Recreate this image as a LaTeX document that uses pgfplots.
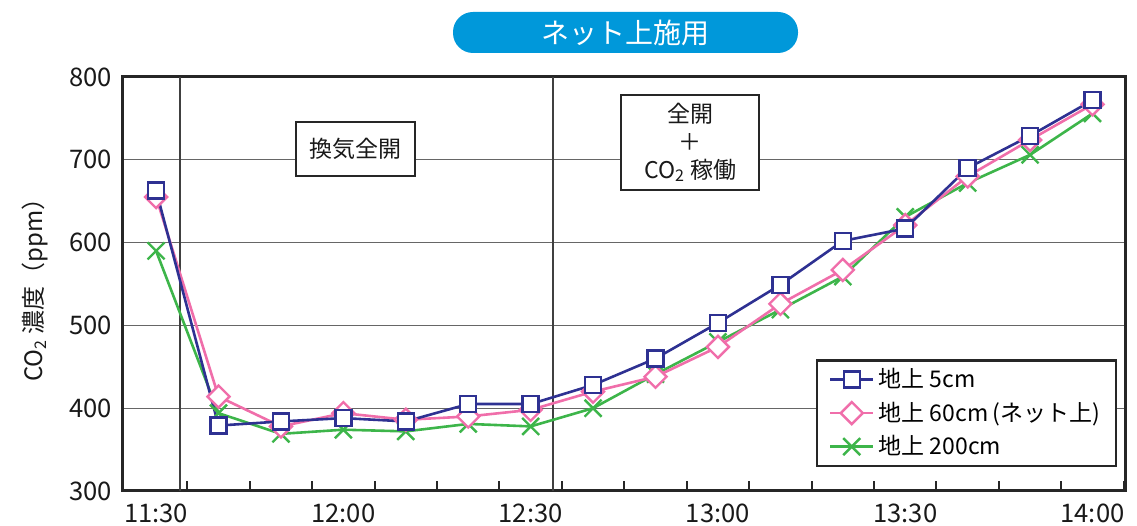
\documentclass[border=0pt]{standalone}
\usepackage{fontspec}
\setmainfont{Noto Sans CJK JP}
\usepackage{pgfplots}
\pgfplotsset{compat=1.18}
\definecolor{cblue}{HTML}{2E3192}
\definecolor{cpink}{HTML}{F06EAA}
\definecolor{cgreen}{HTML}{3DB54A}
\definecolor{ctitle}{HTML}{0098DA}
\begin{document}
\begin{tikzpicture}
\begin{axis}[
  name=ax,
  scale only axis, width=501pt, height=207pt,
  xmin=-0.53, xmax=15.52, ymin=300, ymax=800,
  xtick={0,3,6,9,12,15},
  xticklabels={11:30,12:00,12:30,13:00,13:30,14:00},
  minor xtick={0.5,1.5,...,15.5},
  ytick={300,400,...,800},
  major tick length=0pt, minor tick length=5pt,
  tick align=inside, xtick pos=bottom, ytick pos=left,
  minor tick style={black!85, line width=1pt},
  ymajorgrids, grid style={black!60, line width=0.6pt},
  axis line style={black!85, line width=1.5pt},
  tick label style={font=\fontsize{12.8}{14}\selectfont, text=black!90},
  /pgf/number format/assume math mode=true,
  xticklabel style={yshift=-3pt},
  yticklabel style={xshift=-2pt},
  ylabel={CO\textsubscript{2} 濃度（ppm）},
  ylabel style={at={(axis description cs:-0.0878,0.5)}, anchor=center, font=\fontsize{12}{14}\selectfont, text=black!90},
  clip=false,
  reverse legend,
  legend cell align=left,
  legend image code/.code={\draw[mark repeat=2,mark phase=2] plot coordinates {(0cm,0cm)(0.38cm,0cm)(0.76cm,0cm)};},
  legend style={at={(1,0)}, anchor=south east, xshift=-4pt, yshift=12pt,
    draw=black!85, line width=1.2pt, font=\fontsize{11.5}{13}\selectfont,
    inner xsep=6pt, inner ysep=2pt, row sep=1.6pt},
]
\draw[black!75, line width=0.8pt] (axis cs:0.384,300) -- (axis cs:0.384,800);
\draw[black!75, line width=0.8pt] (axis cs:6.36,300) -- (axis cs:6.36,800);

\addplot[cgreen, line width=1.3pt, mark=x, mark size=6pt, mark options={line width=1.2pt}] coordinates {
(0,590) (1,394) (2,369) (3,374) (4,372) (5,381) (6,378) (7,400)
(8,441) (9,480) (10,519) (11,559) (12,631) (13,672) (14,706) (15,756)};
\addlegendentry{地上 200cm}
\addplot[cpink, line width=1.3pt, mark=square*, mark size=3.9pt, mark options={rotate=45, fill=white, line width=1.2pt}] coordinates {
(0,655) (1,414) (2,378) (3,394) (4,386) (5,390) (6,398) (7,420)
(8,438) (9,474) (10,526) (11,567) (12,621) (13,680) (14,724) (15,767)};
\addlegendentry{地上 60cm\,(ネット上)}
\addplot[cblue, line width=1.3pt, mark=square*, mark size=4pt, mark options={fill=white, line width=1.2pt}] coordinates {
(0,663) (1,379) (2,384) (3,388) (4,384) (5,405) (6,405) (7,428)
(8,460) (9,503) (10,549) (11,602) (12,617) (13,690) (14,729) (15,772)};
\addlegendentry{地上 5cm}

\node[draw=black!85, line width=1.2pt, fill=white, minimum width=59.5pt, minimum height=27pt, font=\fontsize{11.5}{13}\selectfont, text=black!90]
  at (rel axis cs:0.232,0.826) {換気全開};
\node[draw=black!85, line width=1.2pt, fill=white, minimum width=69pt, minimum height=47.5pt, align=center, font=\fontsize{11.5}{14}\selectfont, text=black!90, inner sep=1pt]
  at (rel axis cs:0.566,0.842) {全開\\＋\\CO\textsubscript{2} 稼働};
\node[fill=ctitle, rounded corners=10pt, minimum width=172.5pt, minimum height=20.5pt, text=white, font=\fontsize{14}{15}\selectfont]
  at (rel axis cs:0.5015,1.1075) {ネット上施用};
\end{axis}
\pgfresetboundingbox
\path ([xshift=-61.5pt,yshift=-17.5pt]ax.south west) rectangle ([xshift=6pt,yshift=38.5pt]ax.north east);
\end{tikzpicture}
\end{document}
